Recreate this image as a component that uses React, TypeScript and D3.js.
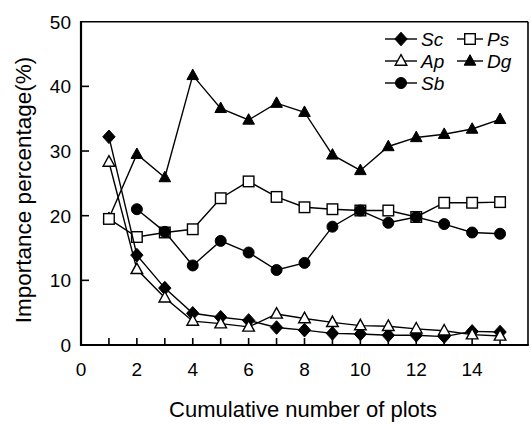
import React from "react";
import * as d3 from "d3";

const plots = [1, 2, 3, 4, 5, 6, 7, 8, 9, 10, 11, 12, 13, 14, 15];
const Sc = [32.2, 13.9, 8.8, 4.9, 4.3, 3.8, 2.7, 2.3, 1.8, 1.7, 1.5, 1.5, 1.3, 2.1, 2.0];
const Ap = [28.3, 11.7, 7.3, 3.7, 3.3, 2.8, 4.8, 4.1, 3.5, 3.0, 2.9, 2.5, 2.2, 1.6, 1.4];
const Ps = [19.5, 16.7, 17.4, 17.9, 22.7, 25.3, 22.9, 21.3, 21.0, 20.8, 20.8, 19.8, 22.0, 22.0, 22.1];
const Dg = [19.6, 29.5, 25.9, 41.7, 36.6, 34.8, 37.4, 36.0, 29.4, 27.0, 30.7, 32.1, 32.6, 33.4, 34.9];
const Sb: (number | null)[] = [null, 21.0, 17.5, 12.3, 16.1, 14.3, 11.6, 12.7, 18.3, 20.8, 18.9, 19.8, 18.7, 17.4, 17.2];

const xTickLabels = [0, 2, 4, 6, 8, 10, 12, 14];
const yTickLabels = [0, 10, 20, 30, 40, 50];
const xMinorTicks = [1, 2, 3, 4, 5, 6, 7, 8, 9, 10, 11, 12, 13, 14, 15];
const yMinorTicks = [10, 20, 30, 40];

type MarkerKind = "diamond" | "square" | "triangleOpen" | "triangleFilled" | "circle";

const seriesList: { name: string; values: (number | null)[]; marker: MarkerKind }[] = [
  { name: "Dg", values: Dg, marker: "triangleFilled" },
  { name: "Ps", values: Ps, marker: "square" },
  { name: "Sb", values: Sb, marker: "circle" },
  { name: "Sc", values: Sc, marker: "diamond" },
  { name: "Ap", values: Ap, marker: "triangleOpen" },
];

const legendItems: { name: string; marker: MarkerKind; col: number; row: number }[] = [
  { name: "Sc", marker: "diamond", col: 0, row: 0 },
  { name: "Ps", marker: "square", col: 1, row: 0 },
  { name: "Ap", marker: "triangleOpen", col: 0, row: 1 },
  { name: "Dg", marker: "triangleFilled", col: 1, row: 1 },
  { name: "Sb", marker: "circle", col: 0, row: 2 },
];

const W = 531;
const H = 426;
const left = 81;
const right = 528;
const top = 21.7;
const bottom = 345;

const x = d3.scaleLinear().domain([0, 16]).range([left, right]);
const y = d3.scaleLinear().domain([0, 50]).range([bottom, top]);

const SW = 1.4;

function Marker({ kind, cx, cy }: { kind: MarkerKind; cx: number; cy: number }) {
  switch (kind) {
    case "diamond":
      return (
        <path
          d={`M${cx},${cy - 6.8}L${cx + 6.2},${cy}L${cx},${cy + 6.8}L${cx - 6.2},${cy}Z`}
          fill="#000"
          stroke="#000"
          strokeWidth={1}
        />
      );
    case "square":
      return <rect x={cx - 5.3} y={cy - 5.3} width={10.6} height={10.6} fill="#fff" stroke="#000" strokeWidth={SW} />;
    case "circle":
      return <circle cx={cx} cy={cy} r={5.5} fill="#000" stroke="#000" strokeWidth={1} />;
    case "triangleOpen":
      return (
        <path
          d={`M${cx},${cy - 6.3}L${cx + 5.8},${cy + 4.2}L${cx - 5.8},${cy + 4.2}Z`}
          fill="#fff"
          stroke="#000"
          strokeWidth={SW}
        />
      );
    case "triangleFilled":
      return (
        <path
          d={`M${cx},${cy - 6.3}L${cx + 5.8},${cy + 4.2}L${cx - 5.8},${cy + 4.2}Z`}
          fill="#000"
          stroke="#000"
          strokeWidth={1}
        />
      );
  }
}

export default function App() {
  const line = d3
    .line<number | null>()
    .defined((d) => d !== null)
    .x((_, i) => x(plots[i]))
    .y((d) => y(d as number));

  const font = "'Liberation Sans', Arial, Helvetica, sans-serif";

  return (
    <svg
      width={W}
      height={H}
      style={{ position: "absolute", left: 0, top: 0, background: "#fff" }}
      fontFamily={font}
    >
      <rect x={0} y={0} width={W} height={H} fill="#fff" />
      {/* frame */}
      <line x1={left} y1={top} x2={right} y2={top} stroke="#000" strokeWidth={1.6} />
      <line x1={right} y1={top} x2={right} y2={bottom} stroke="#000" strokeWidth={1.6} />
      <line x1={left} y1={top - 0.8} x2={left} y2={bottom + 1} stroke="#000" strokeWidth={2.2} />
      <line x1={left} y1={bottom} x2={right + 0.8} y2={bottom} stroke="#000" strokeWidth={2.2} />

      {/* ticks */}
      {xMinorTicks.map((t) => (
        <line key={"xt" + t} x1={x(t)} x2={x(t)} y1={bottom} y2={bottom - 7} stroke="#000" strokeWidth={1.6} />
      ))}
      {yMinorTicks.map((t) => (
        <line key={"yt" + t} x1={left} x2={left + 8} y1={y(t)} y2={y(t)} stroke="#000" strokeWidth={1.6} />
      ))}

      {/* tick labels */}
      {xTickLabels.map((t) => (
        <text key={"xl" + t} x={x(t)} y={376} textAnchor="middle" fontSize={19} fill="#000">
          {t}
        </text>
      ))}
      {yTickLabels.map((t) => (
        <text key={"yl" + t} x={71} y={y(t)} dy="0.36em" textAnchor="end" fontSize={19} fill="#000">
          {t}
        </text>
      ))}

      {/* axis titles */}
      <text x={303} y={417} textAnchor="middle" fontSize={22} fill="#000">
        Cumulative number of plots
      </text>
      <text
        transform={`translate(31,190) rotate(-90)`}
        textAnchor="middle"
        fontSize={22.5}
        fill="#000"
      >
        Importance percentage(%)
      </text>

      {/* series */}
      {seriesList.map((s) => (
        <g key={s.name}>
          <path d={line(s.values) || ""} fill="none" stroke="#000" strokeWidth={SW} />
          {s.values.map((v, i) =>
            v === null ? null : <Marker key={i} kind={s.marker} cx={x(plots[i])} cy={y(v)} />
          )}
        </g>
      ))}

      {/* legend */}
      {legendItems.map((it) => {
        const lx = 385 + it.col * 72;
        const ly = 39 + it.row * 22;
        const len = it.col === 0 ? 32 : 26;
        return (
          <g key={"lg" + it.name}>
            <line x1={lx} x2={lx + len} y1={ly} y2={ly} stroke="#000" strokeWidth={SW} />
            <Marker kind={it.marker} cx={lx + len / 2} cy={ly} />
            <text x={lx + len + 4} y={ly} dy="0.36em" fontSize={19} fontStyle="italic" fill="#000">
              {it.name}
            </text>
          </g>
        );
      })}
    </svg>
  );
}
